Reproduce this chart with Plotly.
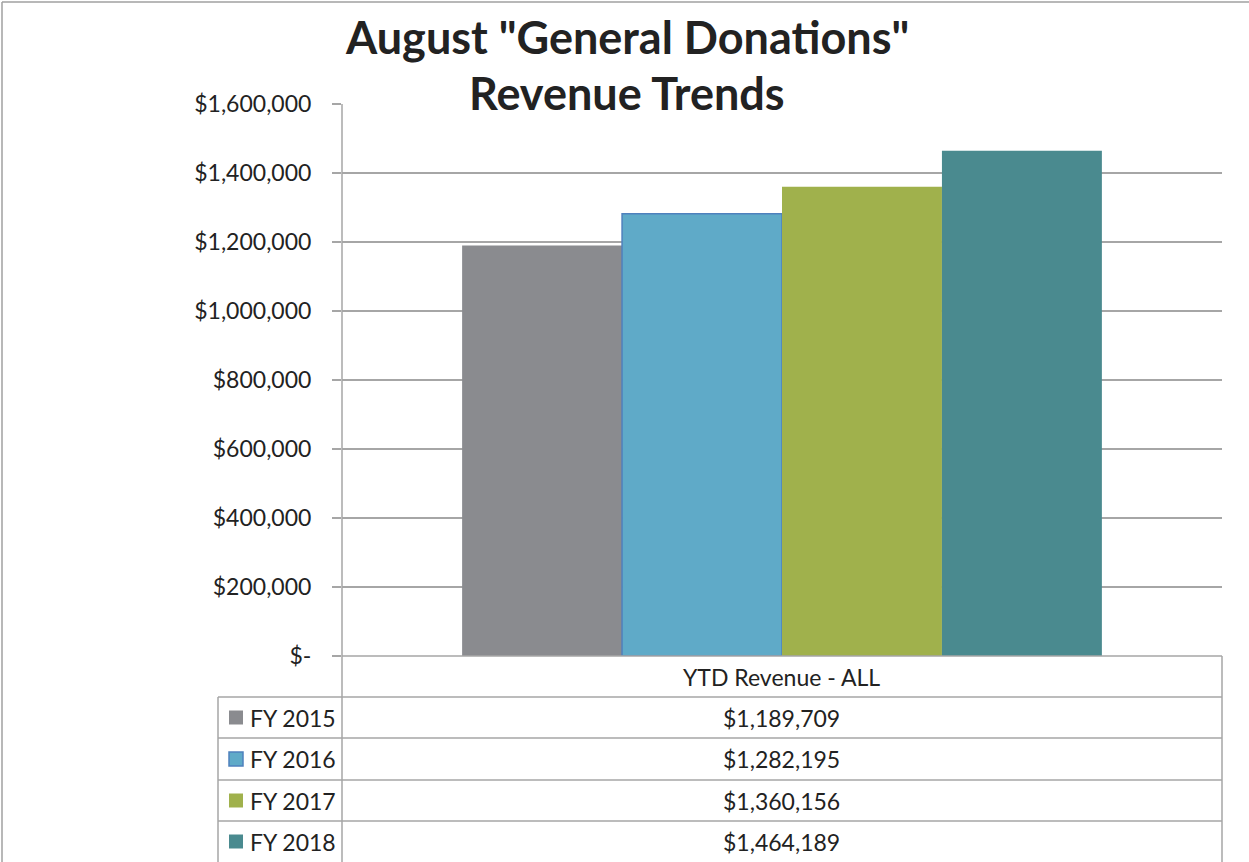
import plotly.graph_objects as go

# ---- data ----
category = "YTD Revenue - ALL"
series_names = ["FY 2015", "FY 2016", "FY 2017", "FY 2018"]
series_values = [1189709, 1282195, 1360156, 1464189]
y_tick_values = [0, 200000, 400000, 600000, 800000, 1000000, 1200000, 1400000, 1600000]
y_tick_labels = ["$-", "$200,000", "$400,000", "$600,000", "$800,000",
                 "$1,000,000", "$1,200,000", "$1,400,000", "$1,600,000"]
title_lines = ['August "General Donations"', "Revenue Trends"]

# ---- style ----
W, H = 1249, 862
colors = ["#8A8B8F", "#5FAAC8", "#A0B14C", "#4A8A8F"]
edge_colors = ["#8A8B8F", "#4F81BD", "#A0B14C", "#4A8A8F"]
edge_widths = [0, 1.5, 0, 0]
grid_color = "#A6A6A6"
text_color = "#222222"
FONT = "Lato"
SMALL = 23

def px(x):
    return x / W

def py(y):
    return 1 - y / H

plot_left, plot_right = 342, 1222
plot_top, plot_bottom = 104, 656

fig = go.Figure()
for name, val, c, ec, ew in zip(series_names, series_values, colors, edge_colors, edge_widths):
    fig.add_trace(go.Bar(
        x=[category], y=[val], name=name,
        marker=dict(color=c, line=dict(color=ec, width=ew)),
        showlegend=False,
    ))

shapes = []
annotations = []

# outer chart frame (left & top)
shapes.append(dict(type="line", xref="paper", yref="paper", x0=px(2), x1=px(2), y0=0, y1=py(2),
                   line=dict(color="#A0A0A0", width=1.5)))
shapes.append(dict(type="line", xref="paper", yref="paper", x0=px(2), x1=1, y0=py(2), y1=py(2),
                   line=dict(color="#A0A0A0", width=1.5)))

# y axis line extended through the table
shapes.append(dict(type="line", xref="paper", yref="paper", x0=px(plot_left), x1=px(plot_left),
                   y0=0, y1=py(plot_top), line=dict(color=grid_color, width=1.5)))

# data table
row_lines = [656, 697, 738, 780, 821]
tbl_left = 218
for i, ry in enumerate(row_lines):
    x0 = tbl_left if i >= 1 else plot_left
    shapes.append(dict(type="line", xref="paper", yref="paper", x0=px(x0), x1=px(plot_right),
                       y0=py(ry), y1=py(ry), line=dict(color=grid_color, width=1.5)))
shapes.append(dict(type="line", xref="paper", yref="paper", x0=px(plot_right), x1=px(plot_right),
                   y0=0, y1=py(656), line=dict(color=grid_color, width=1.5)))
shapes.append(dict(type="line", xref="paper", yref="paper", x0=px(tbl_left), x1=px(tbl_left),
                   y0=0, y1=py(697), line=dict(color=grid_color, width=1.5)))

# header text
annotations.append(dict(text=category, xref="paper", yref="paper",
                        x=px((plot_left + plot_right) / 2), y=py(677),
                        showarrow=False, xanchor="center", yanchor="middle",
                        font=dict(family=FONT, size=SMALL, color=text_color)))

row_centers = [(row_lines[i] + (row_lines[i + 1] if i + 1 < len(row_lines) else 862)) / 2
               for i in range(1, len(row_lines))]
for name, val, c, ec, ew, rc in zip(series_names, series_values, colors, edge_colors,
                                    edge_widths, row_centers):
    shapes.append(dict(type="rect", xref="paper", yref="paper",
                       x0=px(229), x1=px(243), y0=py(rc + 7), y1=py(rc - 7),
                       fillcolor=c, line=dict(color=ec, width=ew if ew else 0)))
    annotations.append(dict(text=name, xref="paper", yref="paper",
                            x=px(248), y=py(rc), showarrow=False,
                            xanchor="left", yanchor="middle",
                            font=dict(family=FONT, size=SMALL, color=text_color)))
    annotations.append(dict(text="${:,}".format(val), xref="paper", yref="paper",
                            x=px((plot_left + plot_right) / 2), y=py(rc), showarrow=False,
                            xanchor="center", yanchor="middle",
                            font=dict(family=FONT, size=SMALL, color=text_color)))

# title
annotations.append(dict(text=title_lines[0], xref="paper", yref="paper",
                        x=px(627), y=py(37), showarrow=False, xanchor="center", yanchor="middle",
                        font=dict(family=FONT, size=45, color=text_color, weight="bold")))
annotations.append(dict(text=title_lines[1], xref="paper", yref="paper",
                        x=px(627), y=py(93), showarrow=False, xanchor="center", yanchor="middle",
                        font=dict(family=FONT, size=45, color=text_color, weight="bold")))

fig.update_layout(
    template="none",
    width=W, height=H, autosize=False,
    margin=dict(l=0, r=0, t=0, b=0, pad=0),
    paper_bgcolor="white", plot_bgcolor="white",
    barmode="group", bargap=0.273, bargroupgap=0,
    xaxis=dict(domain=[px(plot_left), px(plot_right)], range=[-0.5, 0.5],
               showticklabels=False, showgrid=False, zeroline=False, showline=False,
               ticks="", automargin=False),
    yaxis=dict(domain=[py(plot_bottom), py(plot_top)], range=[0, 1600000],
               tickvals=y_tick_values, ticktext=y_tick_labels,
               ticks="outside", ticklen=9, tickcolor=grid_color, tickwidth=1.5,
               ticklabelstandoff=16, automargin=False,
               showgrid=True, gridcolor=grid_color, gridwidth=1.5,
               zeroline=False, showline=False,
               tickfont=dict(family=FONT, size=SMALL, color=text_color)),
    shapes=shapes, annotations=annotations,
    font=dict(family=FONT),
    showlegend=False,
)

fig.write_html("out.html")
